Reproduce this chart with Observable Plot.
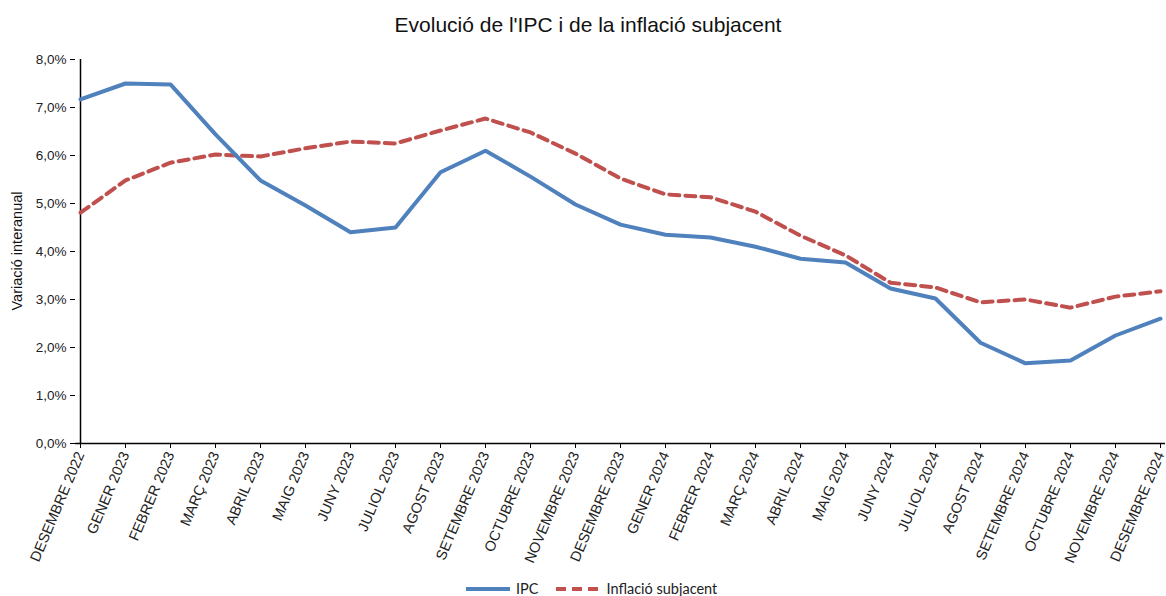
<!DOCTYPE html>
<html>
<head>
<meta charset="utf-8">
<script src="https://cdn.jsdelivr.net/npm/d3@7"></script>
<script src="https://cdn.jsdelivr.net/npm/@observablehq/plot@0.6"></script>
<style>
  html, body { margin: 0; padding: 0; background: #fff; overflow: hidden; }
  body { width: 1166px; height: 596px; position: relative; font-family: "Liberation Sans", Arial, sans-serif; }
  #title { position: absolute; top: 0; left: 0; width: 1166px; height: 45px; line-height: 50px; text-align: center; font-size: 21px; color: #111; padding-left: 10px; box-sizing: border-box; }
  #chart { position: absolute; top: 45px; left: 0; width: 1166px; height: 527px; }
  #chart svg { display: block; max-width: none; }
  #legend { position: absolute; top: 580px; left: 466px; font-family: Lato, "Liberation Sans", sans-serif; font-size: 14.5px; color: #222; display: flex; align-items: center; }
  #legend svg { display: block; }
  .lbl { margin-left: 6px; margin-right: 16px; }
</style>
</head>
<body>
<div id="title">Evolució de l'IPC i de la inflació subjacent</div>
<div id="chart"></div>
<div id="legend">
  <svg width="44" height="10"><line x1="0" y1="5" x2="44" y2="5" stroke="#4F81BD" stroke-width="4"/></svg><span class="lbl">IPC</span>
  <svg width="46" height="10"><line x1="2" y1="5" x2="46" y2="5" stroke="#C0504D" stroke-width="4" stroke-dasharray="10,6"/></svg><span class="lbl">Inflació subjacent</span>
</div>
<script>
const months = ["DESEMBRE 2022","GENER 2023","FEBRER 2023","MARÇ 2023","ABRIL 2023","MAIG 2023","JUNY 2023","JULIOL 2023","AGOST 2023","SETEMBRE 2023","OCTUBRE 2023","NOVEMBRE 2023","DESEMBRE 2023","GENER 2024","FEBRER 2024","MARÇ 2024","ABRIL 2024","MAIG 2024","JUNY 2024","JULIOL 2024","AGOST 2024","SETEMBRE 2024","OCTUBRE 2024","NOVEMBRE 2024","DESEMBRE 2024"];
const ipc = [7.17,7.5,7.48,6.44,5.48,4.96,4.4,4.5,5.65,6.1,5.56,4.98,4.56,4.35,4.29,4.1,3.85,3.77,3.23,3.02,2.1,1.67,1.73,2.25,2.6];
const subjacent = [4.81,5.48,5.85,6.02,5.98,6.15,6.29,6.25,6.52,6.77,6.48,6.04,5.52,5.19,5.13,4.83,4.33,3.92,3.35,3.25,2.94,3.0,2.83,3.06,3.17];
const yTicks = [0,1,2,3,4,5,6,7,8];

const dIpc = months.map((m,i)=>({m, v: ipc[i]}));
const dSub = months.map((m,i)=>({m, v: subjacent[i]}));
const fmt = v => v.toFixed(1).replace(".", ",") + "%";

const plot = Plot.plot({
  width: 1166,
  height: 527,
  marginLeft: 75,
  marginRight: 1,
  marginTop: 14,
  marginBottom: 129,
  style: {fontFamily: "'Liberation Sans', Arial, sans-serif", fontSize: "13px", color: "#222", background: "#fff", overflow: "visible"},
  x: {type: "point", domain: months, padding: 0, range: [75, 1165], label: null},
  y: {domain: [0, 8], label: null},
  marks: [
    Plot.axisY({ticks: yTicks, tickFormat: fmt, tickSize: 5, tickPadding: 4, fontSize: 13.5, stroke: "#000"}),
    Plot.axisX({tickRotate: -67, tickSize: 5, tickPadding: 4, fontSize: 14.5, stroke: "#000"}),
    Plot.ruleY([0], {stroke: "#000", strokeWidth: 1.5}),
    Plot.ruleX([months[0]], {y1: 0, y2: 8, stroke: "#000", strokeWidth: 1.5}),
    Plot.line(dSub, {x: "m", y: "v", stroke: "#C0504D", strokeWidth: 4, strokeDasharray: "10,6"}),
    Plot.line(dIpc, {x: "m", y: "v", stroke: "#4F81BD", strokeWidth: 4})
  ]
});
document.getElementById("chart").appendChild(plot);

// y-axis title
const svg = d3.select(plot);
svg.append("text")
  .attr("transform", "translate(22,206) rotate(-90)")
  .attr("text-anchor", "middle")
  .attr("font-size", 14.5)
  .attr("fill", "#111")
  .text("Variació interanual");
</script>
</body>
</html>
